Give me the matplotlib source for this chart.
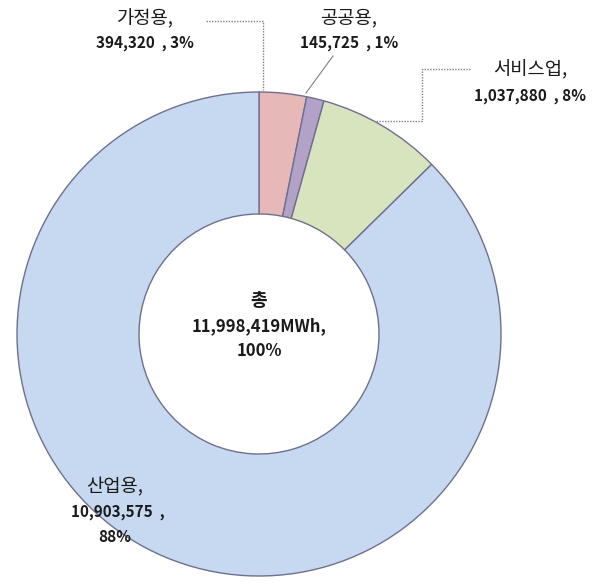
import matplotlib
matplotlib.use("Agg")
import matplotlib.pyplot as plt

plt.rcParams['font.family'] = ['Noto Sans CJK KR', 'DejaVu Sans']

# electricity use by sector (MWh)
sectors = ['가정용', '공공용', '서비스업', '산업용']
values = [394320, 145725, 1037880, 10903575]
shares = ['3%', '1%', '8%', '88%']
colors = ['#E6B9B8', '#B3A2C7', '#D7E4BD', '#C6D9F1']
total_text = ['총', '11,998,419MWh,', '100%']

W, H = 597, 583
fig = plt.figure(figsize=(W / 100, H / 100), dpi=100)
ax = fig.add_axes([0, 0, 1, 1])


def py(y):
    # pixel row (top down) -> axis y
    return H - y


ax.pie(values, colors=colors, startangle=90, counterclock=False,
       radius=242, center=(259, py(334)),
       wedgeprops=dict(width=122, edgecolor='#6F6F8F', linewidth=1.0))
ax.set_xlim(0, W)
ax.set_ylim(0, H)
ax.set_aspect('equal')
ax.axis('off')

lab = dict(fontsize=13.5, ha='center', va='center', color='#1A1A1A')
num = dict(fontsize=11, ha='center', va='center', color='#1A1A1A', fontweight='bold')

# 가정용
ax.text(145, py(19), sectors[0] + ',', **lab)
ax.text(145, py(43), f'{values[0]:,}  , {shares[0]}', **num)
ax.plot([206, 263, 263], [py(21), py(21), py(90)], color='#808080', lw=1, ls=(0, (1, 1)))

# 공공용
ax.text(349, py(18), sectors[1] + ',', **lab)
ax.text(349, py(43), f'{values[1]:,}  , {shares[1]}', **num)
ax.plot([333, 306], [py(56), py(93)], color='#808080', lw=0.8)

# 서비스업
ax.text(530, py(70), sectors[2] + ',', **lab)
ax.text(530, py(96), f'{values[2]:,}  , {shares[2]}', **num)
ax.plot([470, 422, 422, 376], [py(69), py(69), py(121), py(121)],
        color='#808080', lw=1, ls=(0, (1, 1)))

# 산업용
ax.text(115, py(487), sectors[3] + ',', **lab)
ax.text(118, py(512), f'{values[3]:,}  ,', **num)
ax.text(115, py(537), shares[3], **num)

# centre total
ax.text(259, py(300), total_text[0], fontsize=13, ha='center', va='center',
        fontweight='bold', color='#1A1A1A')
ax.text(259, py(326), total_text[1], fontsize=12, ha='center', va='center',
        fontweight='bold', color='#1A1A1A')
ax.text(259, py(351), total_text[2], fontsize=12, ha='center', va='center',
        fontweight='bold', color='#1A1A1A')

fig.savefig('out.png', dpi=100)
